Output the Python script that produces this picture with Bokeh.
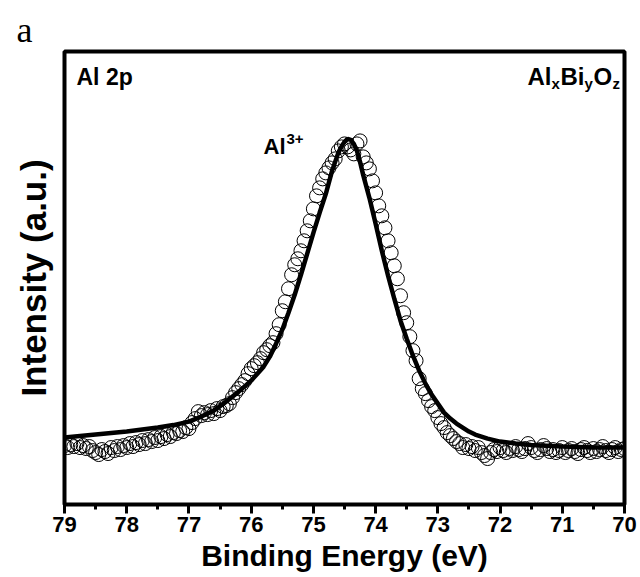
from bokeh.plotting import figure
from bokeh.models import Label, Range1d, SingleIntervalTicker, FixedTicker, Title
from bokeh.embed import file_html
from bokeh.resources import INLINE

# ---- data ----
E_START = 79.0          # binding energy of first sample (eV)
E_STEP = 0.05           # sampling step (eV)

# measured intensity (a.u.), one value per 0.05 eV from 79.00 down to 70.00
intensity = [
    59, 57, 60, 58, 61, 57, 59, 56, 58, 54, 52, 50, 55, 53, 51, 57, 54, 58, 55, 59,        # 79.00-78.05
    57, 61, 58, 62, 60, 64, 61, 65, 63, 67, 64, 68, 66, 70, 68, 72, 71, 74, 73, 77,        # 78.00-77.05
    76, 82, 86, 93, 89, 92, 90, 94, 91, 96, 94, 98, 99, 101, 107, 112, 116, 120, 124, 131, # 77.00-76.05
    136, 139, 142, 146, 152, 155, 159, 162, 171, 180, 194, 203, 216, 230, 240, 246, 254, 264, 274, 284,  # 76.00-75.05
    296, 309, 317, 326, 332, 337, 342, 346, 354, 358, 361, 358, 355, 351, 361, 364, 348, 342, 336, 324,  # 75.00-74.05
    312, 299, 289, 277, 264, 252, 239, 226, 209, 192, 182, 168, 154, 144, 126, 116, 111, 104, 98, 94,    # 74.00-73.05
    87, 81, 77, 72, 69, 66, 63, 61, 57, 60, 56, 58, 54, 57, 52, 49, 46, 52, 55, 53,        # 73.00-72.05
    57, 54, 52, 56, 54, 58, 55, 53, 56, 61, 57, 54, 52, 55, 59, 56, 53, 55, 52, 54,        # 72.00-71.05
    57, 52, 54, 56, 53, 51, 55, 57, 54, 52, 56, 53, 55, 58, 54, 52, 55, 57, 53, 55,        # 71.00-70.05
    56,                                                                                    # 70.00
]
energy = [round(E_START - E_STEP * i, 2) for i in range(len(intensity))]

# fitted envelope (Al3+ component)
fit_energy = [79.0, 78.75, 78.5, 78.25, 78.0, 77.75, 77.5, 77.25, 77.0, 76.8, 76.6, 76.4,
              76.2, 76.0, 75.9, 75.8, 75.7, 75.6, 75.5, 75.4, 75.3, 75.2, 75.1, 75.0,
              74.9, 74.8, 74.7, 74.6, 74.55, 74.5, 74.45, 74.4, 74.35, 74.3, 74.25, 74.2,
              74.1, 74.0, 73.9, 73.8, 73.7, 73.6, 73.5, 73.4, 73.3, 73.2, 73.1, 73.0,
              72.9, 72.8, 72.7, 72.6, 72.5, 72.4, 72.2, 72.0, 71.75, 71.5, 71.0, 70.5, 70.0]
fit_intensity = [67, 68.5, 70, 71.5, 73, 75, 77, 79.5, 83, 88, 94, 103,
                 113, 124, 131, 138, 148, 161, 175, 192, 210, 230, 251, 272,
                 292, 311, 334, 352, 358, 363, 366, 365, 361, 354, 343, 330,
                 307, 281, 254, 229, 206, 184, 166, 149, 134, 121, 110, 101,
                 92, 86, 81, 77, 73, 70, 66, 63, 61, 59.5, 58, 57, 57]

x_lo, x_hi = 79, 70
y_lo, y_hi = 0, 453.5

FONT = "Liberation Sans"

p = figure(frame_width=560, frame_height=453,
           min_border_left=64, min_border_right=16, min_border_top=51, min_border_bottom=20,
           x_range=Range1d(x_lo, x_hi), y_range=Range1d(y_lo, y_hi),
           output_backend="svg", toolbar_location=None)

p.background_fill_color = "white"
p.border_fill_color = "white"
p.outline_line_color = "black"
p.outline_line_width = 4
p.xgrid.visible = False
p.ygrid.visible = False

# panel letter
p.add_layout(Title(text="a", align="left", offset=-48, standoff=4,
                   text_font="Liberation Serif", text_font_size="36px",
                   text_font_style="normal", text_color="black"), "above")

# x axis
xa = p.xaxis[0]
xa.ticker = SingleIntervalTicker(interval=1, num_minor_ticks=2)
xa.axis_line_color = None
xa.major_tick_out = 9
xa.major_tick_in = 0
xa.major_tick_line_width = 3
xa.minor_tick_out = 5
xa.minor_tick_in = 0
xa.minor_tick_line_width = 3
xa.major_label_text_font = FONT
xa.major_label_text_font_style = "bold"
xa.major_label_text_font_size = "22px"
xa.major_label_text_color = "black"
xa.major_label_standoff = 3
xa.axis_label = "Binding Energy (eV)"
xa.axis_label_text_font = FONT
xa.axis_label_text_font_style = "bold"
xa.axis_label_text_font_size = "30px"
xa.axis_label_text_color = "black"
xa.axis_label_standoff = 4

# y axis (no ticks)
ya = p.yaxis[0]
ya.ticker = FixedTicker(ticks=[])
ya.axis_line_color = None
ya.major_tick_line_color = None
ya.minor_tick_line_color = None
ya.axis_label = "Intensity (a.u.)"
ya.axis_label_text_font = FONT
ya.axis_label_text_font_style = "bold"
ya.axis_label_text_font_size = "35px"
ya.axis_label_text_color = "black"
ya.axis_label_standoff = 12

# data and fit
p.scatter(energy, intensity, marker="circle", size=14, fill_color=None,
          line_color="black", line_width=1)
p.line(fit_energy, fit_intensity, line_color="black", line_width=4.5)

def lab(text, x, y, size, style="bold", font=FONT):
    p.add_layout(Label(x=x, y=y, x_units="screen", y_units="screen", text=text,
                       text_font=font, text_font_size=size, text_font_style=style,
                       text_color="black", text_baseline="alphabetic", text_align="left"))

# Al 2p
lab("Al 2p", 12, 428, "23px")
# Al_x Bi_y O_z
lab("Al", 463, 428, "24px")
lab("x", 487, 421, "15px")
lab("Bi", 496, 428, "24px")
lab("y", 520, 421, "15px")
lab("O", 529, 428, "24px")
lab("z", 548, 421, "15px")
# Al3+
lab("Al", 199, 358, "22px")
lab("3+", 222, 366, "15px")

open("out.html", "w").write(file_html(p, INLINE))
